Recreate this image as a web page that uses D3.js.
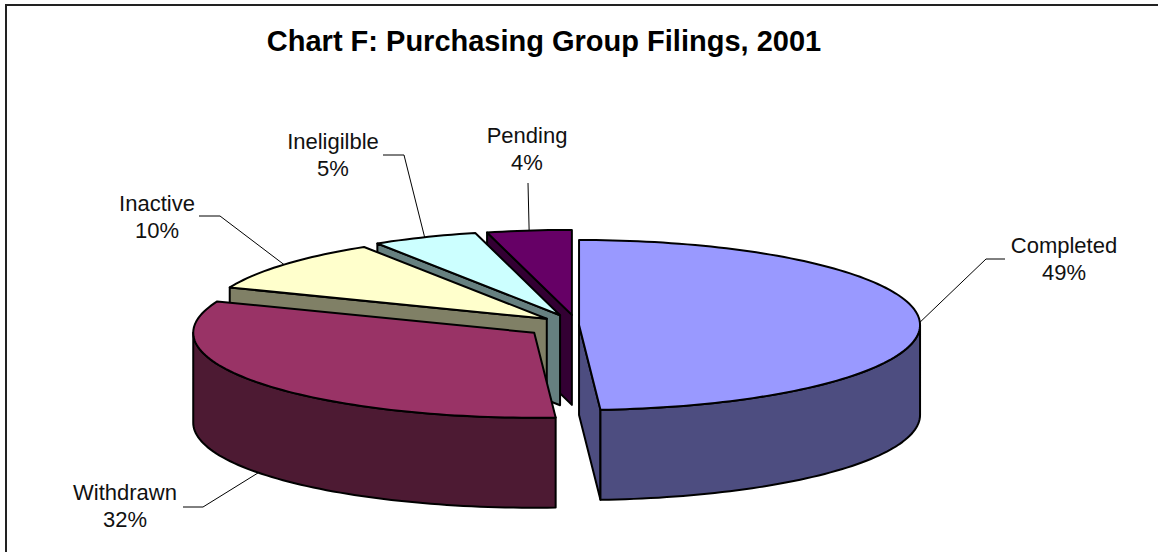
<!DOCTYPE html>
<html>
<head>
<meta charset="utf-8">
<script src="https://cdn.jsdelivr.net/npm/d3@7"></script>
<style>
body { margin: 0; background: #fff; }
svg { display: block; font-family: "Liberation Sans", Arial, sans-serif; }
</style>
</head>
<body>
<div id="chart"></div>
<script>
const title = 'Chart F: Purchasing Group Filings, 2001';
const categories = ['Completed', 'Withdrawn', 'Inactive', 'Ineligilble', 'Pending'];
const values = [49, 32, 10, 5, 4];
// how far each slice is pulled out of the pie (fraction of radius)
const explode = [0.006, 0.155, 0.115, 0.125, 0.12];
const topColors = ['#9999ff', '#993366', '#ffffcc', '#ccffff', '#660066'];
const sideColors = ['#4d4d80', '#4d1a33', '#808066', '#668080', '#330033'];

const width = 1158, height = 552;
const cx = 577, cy = 325, rx = 341, ry = 85, depth = 90;

// label layout: text centre x, first baseline y, leader elbow and end
const labelPos = [
    {x: 1064, y: 253, elbow: [986, 259], end: [1005, 259]},
    {x: 125, y: 500, elbow: [203, 507], end: [183, 507]},
    {x: 157, y: 211, elbow: [220, 216], end: [199, 216]},
    {x: 333, y: 149, elbow: [404, 155], end: [383, 155]},
    {x: 527, y: 143, elbow: null, end: [528, 183]}
];

const svg = d3.select('#chart').append('svg')
    .attr('width', width)
    .attr('height', height);

// chart frame (only top / left edges fall inside the picture)
svg.append('rect')
    .attr('x', 6).attr('y', 5)
    .attr('width', 1400).attr('height', 800)
    .attr('fill', 'none')
    .attr('stroke', '#222')
    .attr('stroke-width', 2);

svg.append('text')
    .attr('x', 544).attr('y', 51)
    .attr('text-anchor', 'middle')
    .style('font-size', '29px')
    .style('font-weight', 'bold')
    .text(title);

const total = d3.sum(values);
const pct = d3.format('.0%');

const arcs = d3.pie().sort(null)(values).map((a, i) => {
    const mid = (a.startAngle + a.endAngle) / 2;
    return {
        i: i,
        a0: a.startAngle,
        a1: a.endAngle,
        mid: mid,
        cx: cx + explode[i] * rx * Math.sin(mid),
        cy: cy - explode[i] * ry * Math.cos(mid)
    };
});

function pt(s, t, r, h) {
    return [s.cx + r * rx * Math.sin(t), s.cy - r * ry * Math.cos(t) + h];
}

function arcPts(s, t0, t1, h) {
    const n = Math.max(2, Math.ceil(Math.abs(t1 - t0) * 40));
    const ang = d3.scaleLinear().domain([0, n]).range([t0, t1]);
    return d3.range(n + 1).map(k => pt(s, ang(k), 1, h));
}

const line = d3.line();
const pie3d = svg.append('g')
    .attr('stroke', '#000')
    .attr('stroke-width', 2)
    .attr('stroke-linejoin', 'round');

// back slices first
const order = arcs.slice().sort((a, b) => (-Math.cos(a.mid)) - (-Math.cos(b.mid)));

order.forEach(s => {
    const g = pie3d.append('g');
    const side = sideColors[s.i];

    // radial cut faces that face the viewer
    [[s.a0, Math.sin(s.a0) < -1e-6], [s.a1, Math.sin(s.a1) > 1e-6]].forEach(([t, vis]) => {
        if (!vis) return;
        g.append('path')
            .attr('d', line([pt(s, t, 0, 0), pt(s, t, 1, 0), pt(s, t, 1, depth), pt(s, t, 0, depth)]) + 'Z')
            .attr('fill', side);
    });

    // outer wall, front half only
    const w0 = Math.max(s.a0, Math.PI / 2), w1 = Math.min(s.a1, Math.PI * 1.5);
    if (w0 < w1) {
        const pts = arcPts(s, w0, w1, 0).concat(arcPts(s, w1, w0, depth));
        g.append('path')
            .attr('d', line(pts) + 'Z')
            .attr('fill', side);
    }

    // top face
    const top = [pt(s, 0, 0, 0)].concat(arcPts(s, s.a0, s.a1, 0));
    g.append('path')
        .attr('d', line(top) + 'Z')
        .attr('fill', topColors[s.i]);
});

// labels and leader lines
const labels = svg.append('g').style('font-size', '22px');
arcs.forEach(s => {
    const lp = labelPos[s.i];
    const start = pt(s, s.mid, 1, Math.cos(s.mid) < 0 ? depth : 0);
    const pts = lp.elbow ? [start, lp.elbow, lp.end] : [start, lp.end];
    labels.append('path')
        .attr('d', line(pts))
        .attr('fill', 'none')
        .attr('stroke', '#000')
        .attr('stroke-width', 1);
    const t = labels.append('text')
        .attr('text-anchor', 'middle')
        .attr('fill', '#111');
    t.append('tspan').attr('x', lp.x).attr('y', lp.y).text(categories[s.i]);
    t.append('tspan').attr('x', lp.x).attr('y', lp.y + 27).text(pct(values[s.i] / total));
});
</script>
</body>
</html>
